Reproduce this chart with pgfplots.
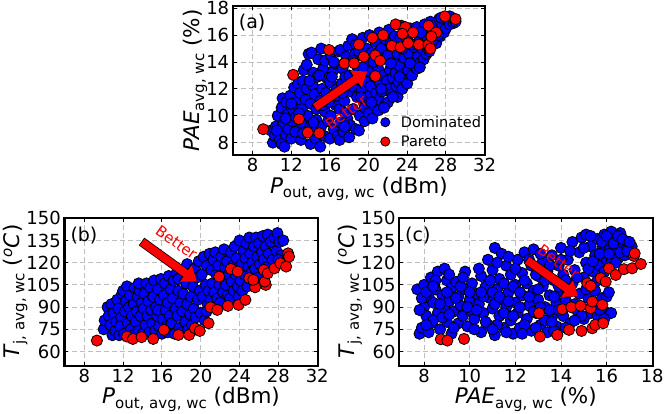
\documentclass[border=0pt]{standalone}
\usepackage{fontspec}
\setmainfont{DejaVu Sans}
\usepackage{pgfplots}
\pgfplotsset{compat=1.18}
\usetikzlibrary{arrows.meta}
\newcommand{\sub}[1]{\raisebox{-0.22em}{\fontsize{15}{15}\selectfont #1}}
\pgfplotsset{
  panel/.style={
    scale only axis,
    clip mode=individual,
    axis line style={line width=2.4pt},
    tick style={black, line width=0.9pt},
    major tick length=4pt,
    tick align=inside,
    grid=major,
    major grid style={black!25, dash pattern=on 5pt off 3pt, line width=0.9pt},
    ticklabel style={font=\fontsize{18}{20}\selectfont},
    label style={font=\fontsize{21.5}{24}\selectfont},
    xlabel style={inner sep=0pt, yshift=-1pt},
    ylabel style={inner sep=0pt, yshift=-4.5pt},
    /pgf/number format/assume math mode=true,
  },
  bluepts/.style={only marks, mark=*, mark size=5.6pt, mark options={fill=blue, draw=black, line width=0.8pt}},
  redpts/.style={only marks, mark=*, mark size=5.6pt, mark options={fill=red, draw=black, line width=0.8pt}},
}
\newcommand{\better}[2]{%
  \draw[black, line width=9.4pt, -{Triangle[length=15pt,width=21.5pt]}] #1 -- #2;
  \draw[red, line width=7.8pt, shorten <=0.8pt, -{Triangle[length=13.6pt,width=19.4pt]}] #1 -- #2;
}
\begin{document}
\begin{tikzpicture}
\path[use as bounding box] (0,0) rectangle (664pt,413pt);
% ---------------- (a)
\begin{axis}[panel, at={(232.7pt,258pt)}, anchor=south west, width=252.3pt, height=149pt,
  xmin=5.94, xmax=32.05, ymin=7.08, ymax=18.17,
  xtick={8,12,16,20,24,28,32}, ytick={8,10,12,14,16,18},
  xlabel={\textit{P}\sub{out, avg, wc} (dBm)},
  ylabel={\textit{PAE}\sub{avg, wc} (\%)},
  legend style={at={(0.574,0.29)}, anchor=north west, draw=none, fill=none,
    font=\fontsize{14.5}{16}\selectfont, row sep=3pt,
    /tikz/every odd column/.append style={column sep=9pt}},
  legend cell align=left,
  legend image post style={mark size=4.6pt},
]
\addplot[bluepts] coordinates {
(9.9,8.9)(10.1,8.0)(10.4,9.2)(10.6,10.0)(10.3,8.5)(10.8,8.2)
(11.0,7.9)(11.1,11.3)(11.2,9.4)(11.0,10.6)(11.4,8.6)(11.3,7.7)(11.6,10.1)(11.5,11.0)(11.7,9.0)
(12.0,8.3)(12.1,9.6)(12.2,10.4)(11.9,11.5)(12.3,12.1)(12.4,8.8)(12.6,11.0)(12.5,9.9)(12.7,12.4)
(13.0,8.2)(13.1,10.5)(12.9,11.7)(13.2,12.6)(13.3,13.4)(13.4,9.3)(13.5,11.2)(13.2,8.7)(13.6,12.0)(13.7,10.0)(13.8,14.6)(13.6,13.8)
(14.0,7.9)(14.1,9.0)(14.0,10.9)(14.2,12.3)(14.3,13.2)(14.1,14.7)(14.4,11.6)(14.5,8.3)(14.6,9.7)(14.7,12.9)(14.8,14.2)(14.6,10.5)
(15.0,7.7)(15.1,9.2)(15.0,11.1)(15.2,12.0)(15.3,13.5)(15.1,15.0)(15.4,8.5)(15.5,10.3)(15.6,11.7)(15.7,12.8)(15.5,14.1)(15.8,9.6)
(16.0,8.3)(16.1,10.0)(16.2,11.3)(16.0,12.5)(16.3,13.3)(16.1,14.5)(16.4,9.0)(16.6,10.8)(16.7,12.0)(16.5,13.9)(16.8,8.5)(16.9,14.8)(16.8,11.5)
(17.0,8.2)(17.1,9.5)(17.0,10.5)(17.2,12.4)(17.3,13.5)(17.1,14.9)(17.4,8.8)(17.5,11.1)(17.6,12.9)(17.7,14.4)(17.8,9.8)(17.9,15.2)(17.6,10.2)
(18.0,8.4)(18.1,9.3)(18.2,11.8)(18.0,13.0)(18.3,15.7)(18.4,10.5)(18.5,12.5)(18.6,14.6)(18.7,9.0)(18.8,11.4)(18.9,13.5)(18.7,15.3)
(19.0,8.9)(19.1,10.0)(19.2,12.0)(19.3,13.1)(19.0,14.8)(19.4,15.8)(19.5,11.0)(19.6,9.6)(19.7,12.6)(19.8,15.0)(19.9,13.9)(19.6,10.6)
(20.0,10.2)(20.1,11.5)(20.2,12.2)(20.0,13.3)(20.3,14.7)(20.1,16.0)(20.4,9.8)(20.5,10.8)(20.6,12.9)(20.7,15.5)(20.8,11.7)(20.9,13.7)
(21.0,10.4)(21.1,11.2)(21.2,12.4)(21.0,13.5)(21.3,15.0)(21.1,16.2)(21.4,11.8)(21.5,13.0)(21.6,14.3)(21.7,15.7)(21.8,10.9)(21.9,12.6)
(22.0,11.0)(22.1,12.0)(22.2,13.4)(22.0,14.5)(22.3,15.4)(22.1,16.4)(22.4,11.6)(22.5,12.8)(22.6,14.0)(22.7,15.9)(22.8,13.2)(22.9,12.2)
(23.0,11.4)(23.1,12.5)(23.2,13.7)(23.0,14.6)(23.3,15.8)(23.4,16.7)(23.5,12.0)(23.6,13.1)(23.7,14.3)(23.8,15.3)(23.9,12.6)
(24.0,12.4)(24.1,13.4)(24.2,14.6)(24.0,15.7)(24.3,16.5)(24.5,13.0)(24.6,14.0)(24.7,15.1)(24.8,16.2)(24.9,13.6)
(25.0,13.5)(25.1,14.4)(25.2,15.5)(25.0,16.6)(25.4,14.0)(25.5,15.0)(25.6,16.1)(25.7,14.2)(25.8,16.8)
(26.0,14.6)(26.1,15.6)(26.2,16.4)(26.4,17.0)(26.5,15.2)(26.6,16.1)(26.8,15.8)(26.9,16.8)
(27.0,15.4)(27.1,16.4)(27.3,17.2)(27.4,15.9)(27.6,16.8)(27.8,16.2)(27.5,17.3)
(28.0,16.5)(28.2,17.1)(28.4,16.8)(28.6,17.3)(28.8,16.9)(29.0,17.0)
(10.5,8.9)(11.4,9.8)(12.0,10.9)(12.8,10.2)(13.0,9.5)(13.9,12.6)(14.3,9.5)(14.9,13.0)(15.3,10.8)
(15.9,11.0)(16.2,12.9)(16.4,14.0)(17.3,11.7)(17.5,9.2)(18.3,12.2)(18.4,14.1)(19.2,11.4)(19.4,13.6)
(20.3,11.0)(20.5,14.0)(21.3,12.0)(21.6,10.6)(22.3,13.9)(22.5,11.4)(23.2,12.9)(23.5,15.0)(24.3,13.9)
(24.5,15.3)(25.3,13.6)(25.4,16.2)(26.3,14.8)(26.6,15.6)(27.2,16.0)(28.4,17.4)
};
\addlegendentry{Dominated}
\addplot[redpts] coordinates {
(9.1,9.0)(12.2,13.05)(12.8,9.75)(13.7,8.75)(14.9,8.7)(15.9,14.9)(17.5,13.9)(18.5,13.9)
(19.0,15.3)(19.5,14.4)(20.7,12.95)(20.7,14.5)(20.4,15.8)(21.2,14.1)(21.5,16.0)(22.8,16.8)
(22.4,15.2)(23.3,15.1)(23.8,16.6)(23.5,16.1)(24.6,16.2)(24.1,15.4)(25.2,15.3)(26.2,15.3)
(26.4,15.0)(26.2,16.7)(27.0,16.2)(26.5,15.9)(27.9,17.4)(29.0,17.2)
};
\addlegendentry{Pareto}
\better{(axis cs:14.4,10.6)}{(axis cs:19.85,13.3)}
\node[red, rotate=35, font=\fontsize{15}{15}\selectfont] at (axis cs:17.7,10.25) {Better};
\node[anchor=north west, inner sep=0pt, font=\fontsize{19}{19}\selectfont] at ([xshift=6pt,yshift=-8pt]rel axis cs:0,1) {(a)};
\end{axis}
% ---------------- (b)
\begin{axis}[panel, at={(64.3pt,47.3pt)}, anchor=south west, width=253.4pt, height=148pt,
  xmin=5.94, xmax=32.05, ymin=50.4, ymax=150.4,
  xtick={8,12,16,20,24,28,32}, ytick={60,75,90,105,120,135,150},
  xlabel={\textit{P}\sub{out, avg, wc} (dBm)},
  ylabel={\textit{T}\sub{j, avg, wc} (\textsuperscript{\textit{o}}\textit{C})},
]
\addplot[bluepts] coordinates {
(10.0,75)(10.1,81)(10.4,90)(10.5,84)(10.7,78)(10.9,71)(10.8,92)
(11.0,86)(11.2,74)(11.3,80)(11.4,95)(11.5,89)(11.6,71)(11.8,83)(11.9,99)(11.7,77)
(12.0,101)(12.1,72)(12.2,87)(12.3,94)(12.4,104)(12.5,79)(12.6,90)(12.8,75)(12.7,98)(12.9,84)
(13.0,71)(13.1,92)(13.2,103)(13.3,80)(13.4,87)(13.5,97)(13.6,74)(13.7,101)(13.8,84)(13.9,93)(13.6,106)
(14.0,72)(14.1,89)(14.2,99)(14.3,78)(14.4,106)(14.5,84)(14.6,94)(14.7,73)(14.8,103)(14.9,88)
(15.0,79)(15.1,97)(15.2,108)(15.3,74)(15.4,90)(15.5,84)(15.6,102)(15.7,77)(15.8,95)(15.9,109)(15.6,88)
(16.0,72)(16.1,82)(16.2,98)(16.3,106)(16.4,88)(16.5,77)(16.6,93)(16.7,111)(16.8,84)(16.9,102)(16.6,73)
(17.0,79)(17.1,96)(17.2,108)(17.3,72)(17.4,89)(17.5,113)(17.6,84)(17.7,101)(17.8,76)(17.9,93)(17.7,109)
(18.0,73)(18.1,87)(18.2,99)(18.3,115)(18.4,80)(18.5,106)(18.6,92)(18.7,75)(18.8,111)(18.9,85)(18.6,119)
(19.0,97)(19.1,78)(19.2,104)(19.3,89)(19.4,116)(19.5,83)(19.6,110)(19.7,95)(19.8,121)(19.9,101)(19.5,75)
(20.0,86)(20.1,112)(20.2,97)(20.3,124)(20.4,81)(20.5,105)(20.6,118)(20.7,92)(20.8,101)(20.9,126)(20.6,87)
(21.0,95)(21.1,115)(21.2,106)(21.3,122)(21.4,100)(21.5,127)(21.6,112)(21.7,96)(21.8,118)(21.9,105)
(22.0,93)(22.1,124)(22.2,110)(22.3,100)(22.4,129)(22.5,117)(22.6,105)(22.7,121)(22.8,98)(22.9,112)
(23.0,96)(23.1,127)(23.2,107)(23.3,118)(23.4,101)(23.5,131)(23.6,112)(23.7,123)(23.8,104)(23.9,97)
(24.0,135)(24.1,108)(24.2,119)(24.3,101)(24.4,128)(24.5,112)(24.6,123)(24.7,133)(24.8,104)(24.9,117)
(25.0,137)(25.1,126)(25.2,113)(25.3,120)(25.5,131)(25.6,116)(25.7,137)(25.8,124)(25.9,110)
(26.0,133)(26.1,119)(26.3,127)(26.4,138)(26.5,122)(26.7,131)(26.8,117)(26.9,139)
(27.0,126)(27.2,134)(27.4,122)(27.6,137)(27.8,128)(27.9,140)
(28.1,134)(28.3,125)(28.5,135)(28.0,122)
};
\addplot[redpts] coordinates {
(9.3,67.4)(12.4,70.1)(13.0,68.5)(13.9,69.7)(15.1,68.5)(16.2,74.6)(17.7,71.2)(18.8,71.2)
(19.4,75.7)(19.9,73.9)(20.8,79.1)(21.0,89.9)(21.7,88.1)(21.9,110.6)(22.8,90.8)(23.1,115.8)
(23.9,91.5)(24.6,94.9)(23.8,114.0)(25.0,109.5)(25.6,103.4)(25.4,108.4)(26.5,115.1)(26.7,105.0)
(26.6,107.2)(26.9,112.8)(27.6,116.2)(28.2,119.6)(28.8,117.4)(29.0,126.3)(29.1,124.1)
};
\better{(axis cs:13.9,134.3)}{(axis cs:19.6,107.3)}
\node[red, rotate=-35, font=\fontsize{15}{15}\selectfont] at (axis cs:17.5,133.5) {Better};
\node[anchor=north west, inner sep=0pt, font=\fontsize{19}{19}\selectfont] at ([xshift=6pt,yshift=-9pt]rel axis cs:0,1) {(b)};
\end{axis}
% ---------------- (c)
\begin{axis}[panel, at={(399pt,47.3pt)}, anchor=south west, width=253.7pt, height=148pt,
  xmin=6.9, xmax=18.02, ymin=50.4, ymax=150.4,
  xtick={8,10,12,14,16,18}, ytick={60,75,90,105,120,135,150},
  xlabel={\textit{PAE}\sub{avg, wc} (\%)},
  ylabel={\textit{T}\sub{j, avg, wc} (\textsuperscript{\textit{o}}\textit{C})},
]
\addplot[bluepts] coordinates {
(7.7,102)(7.8,72)(7.9,76)(8.0,105)(8.0,90)(8.1,84)(8.2,97)(8.3,110)(8.3,79)(8.4,93)(8.5,102)
(8.6,114)(8.6,86)(8.7,75)(8.8,98)(8.9,116)(8.9,89)(9.0,108)(9.0,80)(9.1,94)(9.2,103)(9.2,72)
(9.3,87)(9.4,107)(9.5,79)(9.5,97)(9.6,91)(9.7,84)(9.8,114)(9.8,102)(9.9,77)(10.0,95)(10.0,88)
(10.1,106)(10.2,82)(10.3,99)(10.4,92)(10.5,73)(10.5,111)(10.6,86)(10.7,104)(10.8,122)(10.8,78)
(10.9,96)(11.0,89)(11.0,115)(11.1,130)(11.1,71)(11.2,102)(11.3,84)(11.3,109)(11.4,126)(11.4,95)
(11.5,76)(11.6,118)(11.6,90)(11.7,100)(11.8,81)(11.8,112)(11.9,72)(12.0,105)(12.0,93)(12.1,122)
(12.1,86)(12.2,76)(12.3,113)(12.3,98)(12.4,127)(12.5,82)(12.5,106)(12.6,91)(12.7,118)(12.7,74)
(12.8,129)(12.8,101)(12.9,86)(13.0,111)(13.0,95)(13.1,78)(13.2,121)(13.2,104)(13.3,90)(13.4,73)
(13.4,114)(13.5,98)(13.6,83)(13.6,125)(13.7,108)(13.8,93)(13.8,77)(13.9,118)(14.0,130)(14.0,101)
(14.1,84)(14.1,112)
(14.2,95)(14.3,122)(14.4,79)(14.5,106)(14.5,134)(14.6,115)(14.7,88)(14.8,127)(14.8,99)(14.9,137)
(15.0,110)(15.0,82)(15.1,120)(15.1,139)(15.2,96)(15.3,131)(15.3,86)(15.4,114)(15.5,125)(15.5,101)
(15.6,136)(15.6,84)(15.7,118)(15.8,96)(15.8,129)(15.9,139)(15.9,87)(16.0,122)(16.1,132)(16.2,141)
(16.2,120)(16.3,127)(16.4,136)(16.5,123)(16.6,140)(16.7,130)(16.8,125)(16.9,134)(17.0,128)(17.1,131)
(7.8,88)(7.9,96)(8.1,100)(8.2,73)(8.4,81)(8.5,108)(8.7,92)(8.8,83)(9.0,100)(9.1,112)(9.3,76)
(9.4,96)(9.6,104)(9.7,110)(9.9,90)(10.0,100)(9.1,85)(8.4,104)(8.1,78)
(10.2,75)(10.3,88)(10.4,116)(10.6,97)(10.7,80)(10.9,108)(11.0,100)(11.1,92)(11.2,120)(11.2,78)
(11.3,97)(11.5,106)(11.5,86)(11.7,124)(11.7,94)(11.9,104)(11.9,84)(12.0,116)(12.2,100)(12.2,90)
(12.4,108)(12.4,78)(12.6,122)(12.6,97)(12.8,87)(12.9,112)(13.0,102)(13.1,126)(13.1,90)(13.3,108)
(13.3,81)(13.5,118)(13.5,88)(13.7,97)(13.7,74)(13.9,104)(13.9,88)(14.0,122)(14.2,108)(14.2,76)
(10.5,100)(11.0,75)(11.6,73)(12.3,72)(12.9,76)(13.6,80)
(14.3,100)(14.4,128)(14.6,92)(14.7,110)(14.9,84)(15.0,130)(15.1,102)(15.2,116)(15.3,138)(15.4,92)
(15.4,121)(15.6,108)(15.7,126)(15.7,88)(15.8,134)(15.9,114)(16.0,97)(16.0,138)(16.1,126)(16.2,86)
(16.3,133)(16.4,120)(16.5,138)(16.6,127)(16.7,136)(16.9,128)(17.0,134)(16.1,100)(15.9,82)(14.6,81)
};
\addplot[redpts] coordinates {
(8.73,68.3)(9.02,67.4)(9.75,68.5)(13.04,85.9)(13.08,70.1)(13.84,71.2)(14.06,88.6)(14.35,74.6)
(14.45,89.9)(14.86,90.8)(14.9,73.9)(15.15,106.1)(15.3,104.3)(15.3,89.2)(15.37,93.7)(15.37,75.7)
(15.5,78.0)(15.74,109.5)(15.81,91.5)(15.85,79.1)(15.96,107.2)(16.1,116.2)(16.4,111.7)(16.76,115.6)
(17.12,116.2)(17.2,124.5)(17.23,126.3)(17.5,119.1)
};
\better{(axis cs:12.49,122)}{(axis cs:14.75,97.2)}
\node[red, rotate=-35, font=\fontsize{15}{15}\selectfont] at (axis cs:13.9,120.5) {Better};
\node[anchor=north west, inner sep=0pt, font=\fontsize{19}{19}\selectfont] at ([xshift=6pt,yshift=-9pt]rel axis cs:0,1) {(c)};
\end{axis}
\end{tikzpicture}
\end{document}
